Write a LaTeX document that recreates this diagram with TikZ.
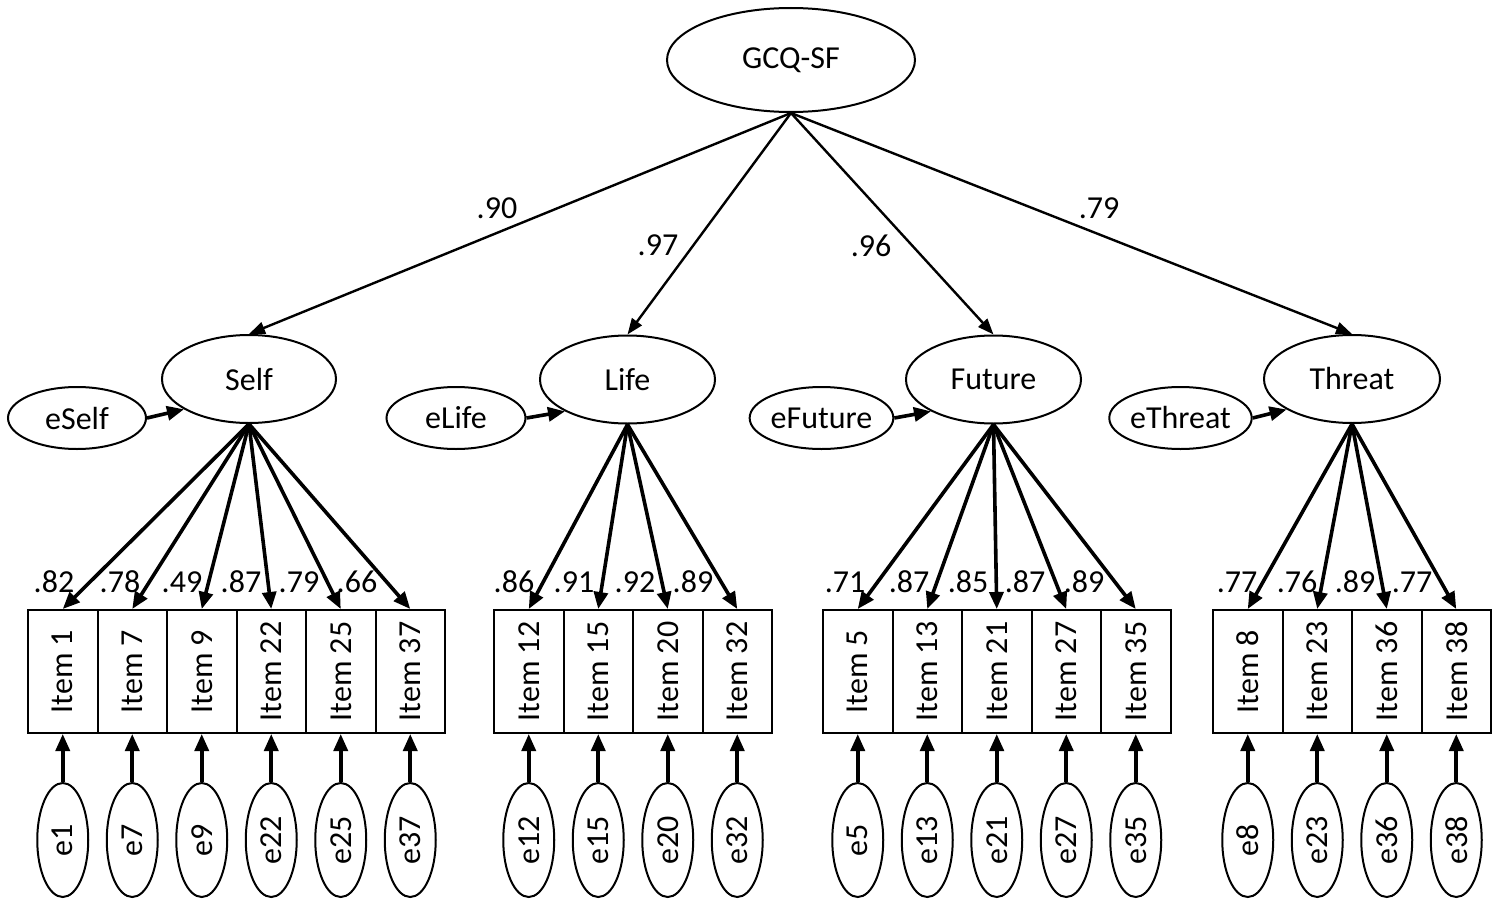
\documentclass[tikz,border=0pt]{standalone}
\usepackage{fontspec}
\usepackage{graphicx}
\setmainfont{Carlito}
\usetikzlibrary{shapes.geometric,arrows.meta}
\begin{document}
\begin{tikzpicture}[x=1pt,y=-1pt,
  every node/.style={font=\fontsize{32}{38}\selectfont},
  latent/.style={ellipse,draw,line width=2pt,inner sep=0pt},
  itembox/.style={rectangle,draw,line width=2pt,minimum width=69.5pt,minimum height=123pt,inner sep=0pt},
  errv/.style={ellipse,draw,line width=2pt,minimum width=51pt,minimum height=114pt,inner sep=0pt},
  toparrow/.style={line width=2.4pt,-{Triangle[length=16pt,width=12pt]}},
  ldarrow/.style={line width=3.6pt,-{Triangle[length=17pt,width=14pt]}},
  lbl/.style={inner sep=0pt}]
\useasboundingbox (0,0) rectangle (1500,907);

% top factor
\node[latent,minimum width=248pt,minimum height=104pt] (G) at (791,60) {GCQ-SF};

% first-order factors
\node[latent,minimum width=174pt,minimum height=88pt] (Self) at (249,379) {Self};
\node[latent,minimum width=175pt,minimum height=88pt] (Life) at (627.5,379.5) {Life};
\node[latent,minimum width=175pt,minimum height=88pt] (Future) at (993.5,379.5) {Future};
\node[latent,minimum width=176pt,minimum height=88pt] (Threat) at (1352,379) {Threat};

% disturbances
\node[latent,minimum width=138pt,minimum height=62pt] (eSelf) at (77,418) {eSelf};
\node[latent,minimum width=139pt,minimum height=62pt] (eLife) at (456,418) {eLife};
\node[latent,minimum width=137pt,minimum height=62pt] (eFuture) at (821.5,418) {eFuture};
\node[latent,minimum width=137pt,minimum height=62pt] (eThreat) at (1180.5,418) {eThreat};

\draw[ldarrow] (eSelf.east) -- (Self.205);
\draw[ldarrow] (eLife.east) -- (Life.207);
\draw[ldarrow] (eFuture.east) -- (Future.207);
\draw[ldarrow] (eThreat.east) -- (Threat.205);

% second-order loadings
\draw[toparrow] (G.south) -- (Self.north);
\draw[toparrow] (G.south) -- (Life.north);
\draw[toparrow] (G.south) -- (Future.north);
\draw[toparrow] (G.south) -- (Threat.north);
\node[lbl] (l90) at (497,208) {.90};
\node[lbl] (l97) at (658,245) {.97};
\node[lbl] (l96) at (871,246) {.96};
\node[lbl] (l79) at (1099,208) {.79};

% items and errors
\foreach \x/\n in {62.75/1,132.25/7,201.75/9,271.25/22,340.75/25,410.25/37,
                   528.75/12,598.25/15,667.75/20,737.25/32,
                   857.75/5,927.25/13,996.75/21,1066.25/27,1135.75/35,
                   1247.75/8,1317.25/23,1386.75/36,1456.25/38}{
  \node[itembox] (i\n) at (\x,671.5) {\rotatebox{90}{Item \n}};
  \node[errv] (e\n) at (\x,840) {\rotatebox{90}{e\n}};
  \draw[ldarrow] (e\n.north) -- (i\n.south);
}

% first-order loadings
\foreach \n in {1,7,9,22,25,37} \draw[ldarrow] (Self.south) -- (i\n.north);
\foreach \n in {12,15,20,32} \draw[ldarrow] (Life.south) -- (i\n.north);
\foreach \n in {5,13,21,27,35} \draw[ldarrow] (Future.south) -- (i\n.north);
\foreach \n in {8,23,36,38} \draw[ldarrow] (Threat.south) -- (i\n.north);

% loading labels
\foreach \x/\v/\k in {54/.82/a1,120/.78/a7,182/.49/a9,241/.87/a22,299/.79/a25,357/.66/a37,
                      514/.86/a12,574/.91/a15,635/.92/a20,693/.89/a32,
                      845/.71/a5,909/.87/a13,968/.85/a21,1025/.87/a27,1084/.89/a35,
                      1237/.77/a8,1297/.76/a23,1355/.89/a36,1412/.77/a38}{
  \node[lbl] (\k) at (\x,582) {\v};
}
\end{tikzpicture}
\end{document}
